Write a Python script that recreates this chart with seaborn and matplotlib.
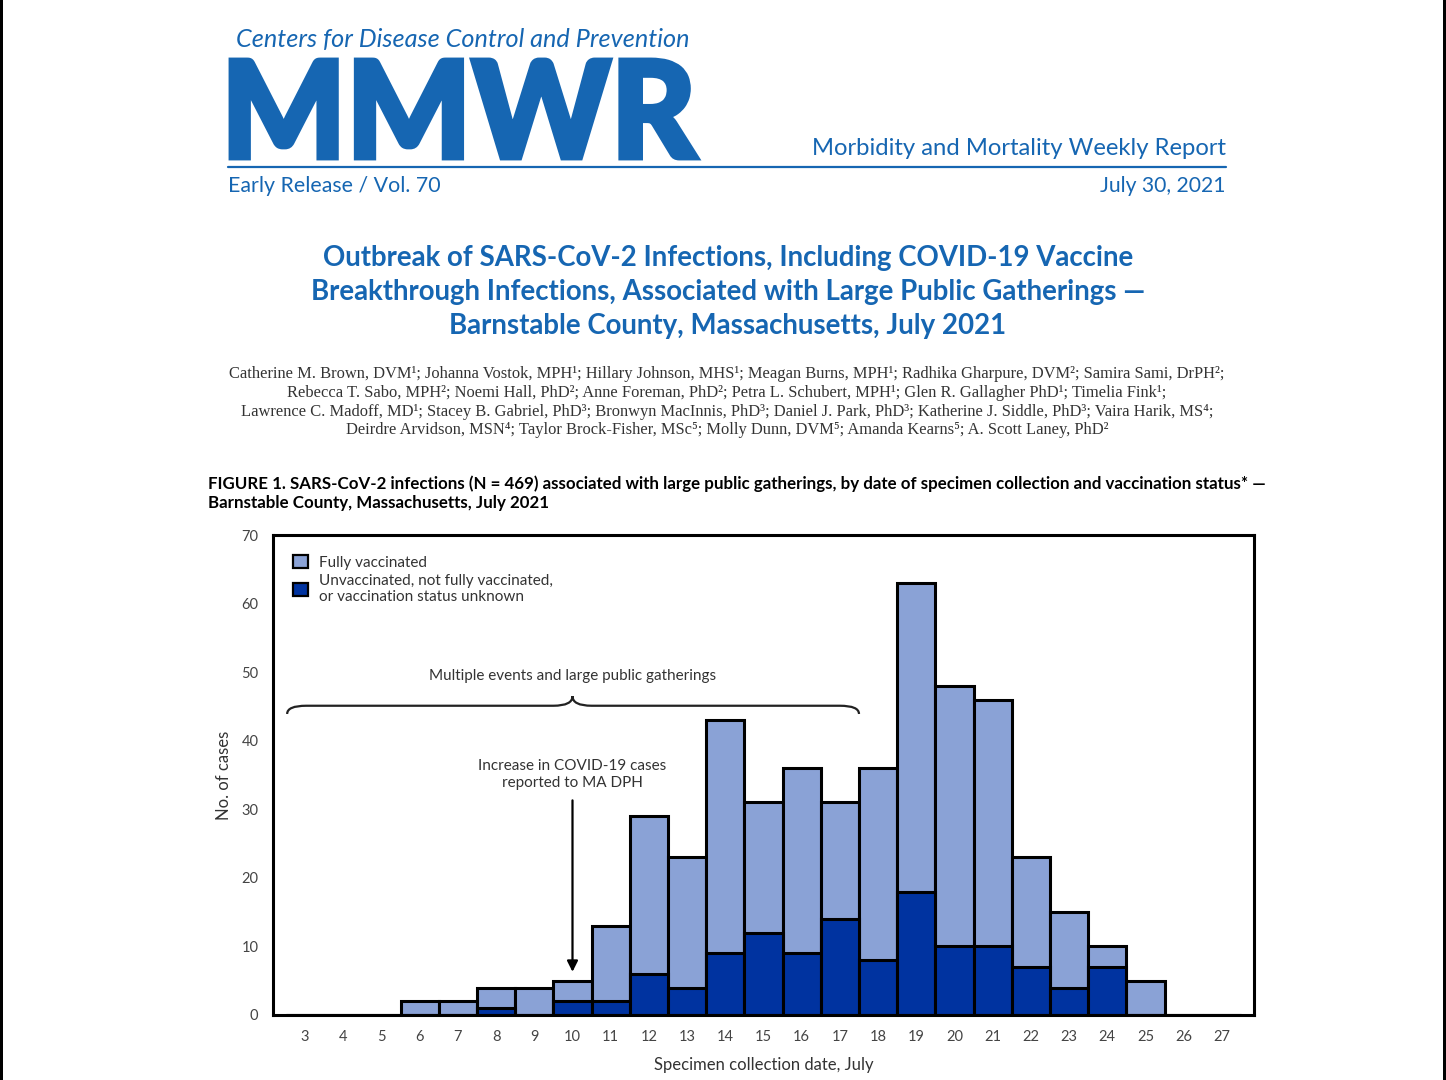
import matplotlib
matplotlib.use("Agg")
import matplotlib.pyplot as plt
import numpy as np
import pandas as pd
import seaborn as sb
from matplotlib.path import Path
from matplotlib.patches import PathPatch, Rectangle
from matplotlib.textpath import TextPath
from matplotlib.font_manager import FontProperties
from matplotlib.transforms import Affine2D

# data
days = ["3", "4", "5", "6", "7", "8", "9", "10", "11", "12", "13", "14", "15",
        "16", "17", "18", "19", "20", "21", "22", "23", "24", "25", "26", "27"]
fully_vaccinated = [0, 0, 0, 2, 2, 3, 4, 3, 11, 23, 19, 34, 19, 27, 17, 28, 45,
                    38, 36, 16, 11, 3, 5, 0, 0]
unvaccinated = [0, 0, 0, 0, 0, 1, 0, 2, 2, 6, 4, 9, 12, 9, 14, 8, 18, 10, 10, 7,
                4, 7, 0, 0, 0]
y_ticks = [0, 10, 20, 30, 40, 50, 60, 70]

legend_labels = ["Fully vaccinated",
                 "Unvaccinated, not fully vaccinated,\nor vaccination status unknown"]

authors = [
    "Catherine M. Brown, DVM¹; Johanna Vostok, MPH¹; Hillary Johnson, MHS¹; Meagan Burns, MPH¹; Radhika Gharpure, DVM²; Samira Sami, DrPH²;",
    "Rebecca T. Sabo, MPH²; Noemi Hall, PhD²; Anne Foreman, PhD²; Petra L. Schubert, MPH¹; Glen R. Gallagher PhD¹; Timelia Fink¹;",
    "Lawrence C. Madoff, MD¹; Stacey B. Gabriel, PhD³; Bronwyn MacInnis, PhD³; Daniel J. Park, PhD³; Katherine J. Siddle, PhD³; Vaira Harik, MS⁴;",
    "Deirdre Arvidson, MSN⁴; Taylor Brock-Fisher, MSc⁵; Molly Dunn, DVM⁵; Amanda Kearns⁵; A. Scott Laney, PhD²",
]
title_lines = [
    "Outbreak of SARS-CoV-2 Infections, Including COVID-19 Vaccine",
    "Breakthrough Infections, Associated with Large Public Gatherings —",
    "Barnstable County, Massachusetts, July 2021",
]

LIGHT = "#8aa2d6"
DARK = "#0033a0"
BLUE = "#1666b2"
W, H = 1446, 1080

sb.set_style("white")
plt.rcParams["font.family"] = ["Lato", "DejaVu Sans"]

df = pd.DataFrame({"day": days,
                   "vax": fully_vaccinated,
                   "unvax": unvaccinated})
df["total"] = df["vax"] + df["unvax"]

fig = plt.figure(figsize=(W / 100, H / 100), dpi=100)
renderer = fig.canvas.get_renderer()


def put(x, y, s, width=None, **kw):
    t = fig.text(x / W, 1 - y / H, s, **kw)
    if width:
        w = t.get_window_extent(renderer).width
        t.set_fontsize(t.get_fontsize() * width / w)
    return t


# page borders of the screenshot
fig.add_artist(Rectangle((0, 0), 3 / W, 1, transform=fig.transFigure,
                         color="black", lw=0))
fig.add_artist(Rectangle((1 - 3 / W, 0), 3 / W, 1, transform=fig.transFigure,
                         color="black", lw=0))

# masthead
put(236, 47, "Centers for Disease Control and Prevention", width=453,
    fontsize=16, style="italic", color=BLUE, va="baseline")
tp = TextPath((0, 0), "MMWR", prop=FontProperties(family="Lato", weight="black"),
              size=100)
ext = tp.get_extents()
logo_tr = (Affine2D().translate(-ext.x0, -ext.y0)
           .scale((697 - 231) / ext.width / W, (158 - 60) / ext.height / H)
           .translate(231 / W, 1 - 158 / H) + fig.transFigure)
fig.add_artist(PathPatch(tp, transform=logo_tr, fc=BLUE, ec=BLUE, lw=3.5))
fig.add_artist(plt.Line2D([228 / W, 1226 / W], [1 - 167 / H, 1 - 167 / H],
                          transform=fig.transFigure, color=BLUE, lw=1.6))
put(1226, 155, "Morbidity and Mortality Weekly Report", width=418,
    fontsize=16, color=BLUE, ha="right", va="baseline")
put(228, 192, "Early Release / Vol. 70", width=213, fontsize=16, color=BLUE,
    va="baseline")
put(1226, 192, "July 30, 2021", width=126, fontsize=16, color=BLUE,
    ha="right", va="baseline")

# article title
t0 = put(728, 266, title_lines[0], width=812, fontsize=20, weight="bold",
         color=BLUE, ha="center", va="baseline")
for i, line in enumerate(title_lines[1:]):
    put(728, 300 + 34 * i, line, fontsize=t0.get_fontsize(), weight="bold",
        color=BLUE, ha="center", va="baseline")

# authors
a0 = put(727, 378, authors[0], width=997, fontsize=12,
         family=["Liberation Serif", "DejaVu Serif"], color="#333333",
         ha="center", va="baseline")
for i, line in enumerate(authors[1:]):
    put(727, 397 + 18.7 * i, line, fontsize=a0.get_fontsize(),
        family=["Liberation Serif", "DejaVu Serif"], color="#333333",
        ha="center", va="baseline")

# figure caption
c0 = put(208, 489, "FIGURE 1. SARS-CoV-2 infections (N = 469) associated with large "
         "public gatherings, by date of specimen collection and vaccination status* —",
         width=1051, fontsize=12, weight="bold", color="black", va="baseline")
put(208, 508, "Barnstable County, Massachusetts, July 2021",
    fontsize=c0.get_fontsize(), weight="bold", color="black", va="baseline")

# chart
ax = fig.add_axes([273 / W, 1 - 1015 / H, (1254 - 273) / W, (1015 - 535) / H])
sb.barplot(data=df, x="day", y="total", color=LIGHT, saturation=1, width=1,
           edgecolor="black", linewidth=2.2, label=legend_labels[0], ax=ax)
sb.barplot(data=df, x="day", y="unvax", color=DARK, saturation=1, width=1,
           edgecolor="black", linewidth=2.2, label=legend_labels[1], ax=ax)

ax.set_xlim(-0.84, 24.84)
ax.set_ylim(0, 70)
ax.set_yticks(y_ticks)
for sp in ax.spines.values():
    sp.set_visible(True)
    sp.set_linewidth(2.2)
    sp.set_color("black")
ax.tick_params(axis="both", direction="out", length=6.5, width=2.2,
               color="black", labelcolor="#444444", labelsize=10.5, pad=4)
ax.set_xlabel("Specimen collection date, July", fontsize=12, color="#333333",
              labelpad=10)
ax.set_ylabel("No. of cases", fontsize=12, color="#333333", labelpad=7)

leg = ax.legend(loc="upper left", bbox_to_anchor=(0.014, 0.972), frameon=False,
                fontsize=11, handlelength=1.0, handleheight=1.0,
                handletextpad=0.7, labelspacing=0.3, borderaxespad=0)
for txt in leg.get_texts():
    txt.set_color("#333333")
for h in leg.legend_handles:
    h.set_linewidth(1.6)

# brace over the event period
x0, x1, xm = -0.47, 14.5, 7.0
ylo, yf, ytip = 43.9, 45.1, 46.5
verts = [(x0, ylo), (x0, yf), (x0 + 0.5, yf), (xm - 0.5, yf),
         (xm, yf), (xm, ytip), (xm, yf), (xm + 0.5, yf),
         (x1 - 0.5, yf), (x1, yf), (x1, ylo)]
codes = [Path.MOVETO, Path.CURVE3, Path.CURVE3, Path.LINETO,
         Path.CURVE3, Path.CURVE3, Path.CURVE3, Path.CURVE3,
         Path.LINETO, Path.CURVE3, Path.CURVE3]
ax.add_patch(PathPatch(Path(verts, codes), fill=False, lw=1.6, ec="#222222"))
ax.text(xm, 49.4, "Multiple events and large public gatherings", ha="center",
        va="center", fontsize=11, color="#333333")

ax.annotate("", xy=(7, 6.3), xytext=(7, 31.3),
            arrowprops=dict(arrowstyle="-|>", color="black", lw=1.6,
                            mutation_scale=16, shrinkA=0, shrinkB=0))
ax.text(7, 35.1, "Increase in COVID-19 cases\nreported to MA DPH", ha="center",
        va="center", fontsize=11, color="#333333", linespacing=1.25)

fig.savefig("out.png", dpi=100)
